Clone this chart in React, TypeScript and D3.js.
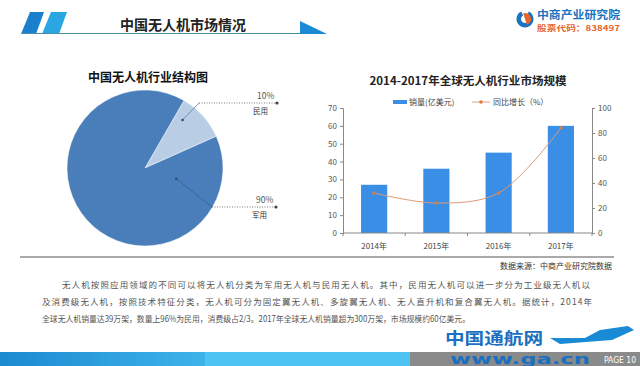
import { useRef, useEffect } from "react";
import * as d3 from "d3";

// Pie: structure of China UAV industry
const pieLabels = ["民用", "军用"];
const pieValues = [10, 90];
const pieColors = ["#b9cde5", "#4a7ebb"];

// Bars + line: global UAV market 2014-2017
const years = ["2014年", "2015年", "2016年", "2017年"];
const sales = [27, 36, 45, 60];
const growth = [32, 24, 32, 84];
const leftTicks = [0, 10, 20, 30, 40, 50, 60, 70];
const rightTicks = [0, 20, 40, 60, 80, 100];

const paragraph = [
  "无人机按照应用领域的不同可以将无人机分类为军用无人机与民用无人机。其中，民用无人机可以进一步分为工业级无人机以",
  "及消费级无人机，按照技术特征分类，无人机可分为固定翼无人机、多旋翼无人机、无人直升机和复合翼无人机。据统计，2014年",
  "全球无人机销量达39万架，数量上96%为民用，消费级占2/3。2017年全球无人机销量超为300万架，市场规模约60亿美元。",
];

const W = 640;
const H = 366;
const FONT = "'Noto Sans CJK SC', 'Noto Sans', sans-serif";

export default function App() {
  const ref = useRef<SVGSVGElement>(null);

  useEffect(() => {
    if (!ref.current) return;
    const svg = d3.select(ref.current);
    svg.selectAll("*").remove();
    svg.style("font-family", FONT);

    // background
    svg.append("rect").attr("width", W).attr("height", H).attr("fill", "#fff");

    // ---- header ----
    svg.append("polygon").attr("points", "30,12 44,12 36,34 21,34").attr("fill", "#1a7fcc");
    svg.append("polygon").attr("points", "51,12 67,12 59,34 42,34").attr("fill", "#2aa6e3");
    svg
      .append("line")
      .attr("x1", 21).attr("x2", 300).attr("y1", 33.5).attr("y2", 33.5)
      .attr("stroke", "#4a8fa8").attr("stroke-width", 1.2);
    svg.append("polygon").attr("points", "300,21 300,34 327,34").attr("fill", "#1a8ad4");
    svg
      .append("text")
      .attr("x", 183).attr("y", 30)
      .attr("text-anchor", "middle")
      .attr("font-size", 14).attr("font-weight", "bold").attr("fill", "#222")
      .text("中国无人机市场情况");

    // logo
    const logo = svg.append("g").attr("transform", "translate(525,19)");
    logo.append("path").attr("d", d3.arc()({ innerRadius: 4, outerRadius: 8.5, startAngle: Math.PI * 0.15, endAngle: Math.PI * 1.85 }) as string).attr("fill", "#1a74c0");
    logo.append("path").attr("d", d3.arc()({ innerRadius: 0, outerRadius: 6, startAngle: -Math.PI * 0.1, endAngle: Math.PI * 0.9 }) as string).attr("fill", "#e8652b");
    svg.append("text").attr("x", 537).attr("y", 19).attr("font-size", 11).attr("font-weight", "bold").attr("fill", "#1a74c0")
      .attr("textLength", 83).attr("lengthAdjust", "spacingAndGlyphs").text("中商产业研究院");
    svg.append("text").attr("x", 537).attr("y", 30.5).attr("font-size", 7.5).attr("font-weight", "bold").attr("fill", "#e8652b")
      .attr("textLength", 83).attr("lengthAdjust", "spacingAndGlyphs").text("股票代码：838497");

    // ---- pie ----
    svg
      .append("text")
      .attr("x", 148).attr("y", 82)
      .attr("text-anchor", "middle")
      .attr("font-size", 12).attr("font-weight", "bold").attr("fill", "#111")
      .text("中国无人机行业结构图");

    const cx = 145, cy = 168, r = 78;
    const pie = d3
      .pie<number>()
      .sort(null)
      .startAngle((30 * Math.PI) / 180)
      .endAngle((30 * Math.PI) / 180 + 2 * Math.PI);
    const arcs = pie(pieValues);
    const arc = d3.arc<d3.PieArcDatum<number>>().innerRadius(0).outerRadius(r);
    const pg = svg.append("g").attr("transform", `translate(${cx},${cy})`);
    pg.selectAll("path")
      .data(arcs)
      .join("path")
      .attr("d", arc)
      .attr("fill", (_, i) => pieColors[i])
      .attr("stroke", "#fff")
      .attr("stroke-width", 0.5);

    // leader lines (anchor angle/radius per slice, label positions)
    const anchors = [
      { ang: 38, rad: 61, bx: 199, by: 103, ex: 277, lx: 253 },
      { ang: 109, rad: 33, bx: 212, by: 207, ex: 276, lx: 252 },
    ];
    anchors.forEach((a, i) => {
      const t = (a.ang * Math.PI) / 180;
      const ax = cx + a.rad * Math.sin(t);
      const ay = cy - a.rad * Math.cos(t);
      svg.append("line").attr("x1", ax).attr("y1", ay).attr("x2", a.bx).attr("y2", a.by)
        .attr("stroke", i === 0 ? "#5a7fa8" : "#2f5f95").attr("stroke-width", 0.8);
      svg.append("line").attr("x1", a.bx).attr("y1", a.by).attr("x2", a.ex).attr("y2", a.by)
        .attr("stroke", "#555").attr("stroke-width", 0.8).attr("stroke-dasharray", "1,1.5");
      svg.append("circle").attr("cx", ax).attr("cy", ay).attr("r", 1.3).attr("fill", "#2a4a70");
      svg.append("circle").attr("cx", a.ex).attr("cy", a.by).attr("r", 1.6).attr("fill", "#444");
      svg.append("text").attr("x", a.lx + 4).attr("y", a.by - 4).attr("font-size", 8.5).attr("fill", "#555")
        .text(`${pieValues[i]}%`);
      svg.append("text").attr("x", a.lx).attr("y", a.by + 11).attr("font-size", 7.5).attr("fill", "#333")
        .text(pieLabels[i]);
    });

    // ---- bar + line chart ----
    svg
      .append("text")
      .attr("x", 468).attr("y", 85)
      .attr("text-anchor", "middle")
      .attr("font-size", 11).attr("font-weight", "bold").attr("fill", "#222")
      .attr("textLength", 197).attr("lengthAdjust", "spacingAndGlyphs")
      .text("2014-2017年全球无人机行业市场规模");

    const x0 = 343, x1 = 592, yTop = 108, yBot = 233;
    const x = d3.scaleBand().domain(years).range([x0, x1]).paddingInner(0.58).paddingOuter(0.29);
    const yL = d3.scaleLinear().domain([0, 70]).range([yBot, yTop]);
    const yR = d3.scaleLinear().domain([0, 100]).range([yBot, yTop]);
    const band = (x1 - x0) / years.length;

    // legend
    svg.append("rect").attr("x", 393).attr("y", 100).attr("width", 14).attr("height", 4).attr("fill", "#3a8ee6");
    svg.append("text").attr("x", 409).attr("y", 105).attr("font-size", 8).attr("fill", "#444").text("销量(亿美元)");
    svg.append("line").attr("x1", 472).attr("x2", 490).attr("y1", 102).attr("y2", 102).attr("stroke", "#e0a080").attr("stroke-width", 1);
    svg.append("circle").attr("cx", 481).attr("cy", 102).attr("r", 1.8).attr("fill", "#e07b39");
    svg.append("text").attr("x", 493).attr("y", 105).attr("font-size", 8).attr("fill", "#444").text("同比增长（%）");

    // bars
    svg.append("g")
      .selectAll("rect")
      .data(sales)
      .join("rect")
      .attr("x", (_, i) => x(years[i]) as number)
      .attr("y", (d) => yL(d))
      .attr("width", x.bandwidth())
      .attr("height", (d) => yBot - yL(d))
      .attr("fill", "#3a8ee6");

    // axes
    const axisColor = "#888";
    const gl = svg.append("g").attr("transform", `translate(${x0},0)`)
      .call(d3.axisLeft(yL).tickValues(leftTicks).tickSize(3).tickPadding(3));
    const gr = svg.append("g").attr("transform", `translate(${x1},0)`)
      .call(d3.axisRight(yR).tickValues(rightTicks).tickSize(3).tickPadding(3));
    [gl, gr].forEach((g) => {
      g.select(".domain").attr("stroke", axisColor);
      g.selectAll("line").attr("stroke", axisColor);
      g.selectAll("text").attr("fill", "#555").attr("font-size", 8).attr("font-family", FONT);
    });

    svg.append("line").attr("x1", x0).attr("x2", x1).attr("y1", yBot).attr("y2", yBot).attr("stroke", axisColor);
    d3.range(years.length + 1).forEach((i) => {
      svg.append("line")
        .attr("x1", x0 + i * band).attr("x2", x0 + i * band)
        .attr("y1", yBot).attr("y2", yBot + 3)
        .attr("stroke", axisColor);
    });
    svg.append("g")
      .selectAll("text")
      .data(years)
      .join("text")
      .attr("x", (d) => (x(d) as number) + x.bandwidth() / 2)
      .attr("y", 249)
      .attr("text-anchor", "middle")
      .attr("font-size", 8)
      .attr("fill", "#444")
      .text((d) => d);

    // growth line
    const line = d3
      .line<number>()
      .x((_, i) => (x(years[i]) as number) + x.bandwidth() / 2)
      .y((d) => yR(d))
      .curve(d3.curveCatmullRom.alpha(0.5));
    svg.append("path").datum(growth).attr("d", line).attr("fill", "none").attr("stroke", "#dd9a78").attr("stroke-width", 1);
    svg.append("g")
      .selectAll("circle")
      .data(growth)
      .join("circle")
      .attr("cx", (_, i) => (x(years[i]) as number) + x.bandwidth() / 2)
      .attr("cy", (d) => yR(d))
      .attr("r", 1.8)
      .attr("fill", "#e07b39");

    // separator + source
    svg.append("line").attr("x1", 20).attr("x2", 614).attr("y1", 257).attr("y2", 257).attr("stroke", "#555").attr("stroke-width", 1);
    svg.append("text").attr("x", 612).attr("y", 269).attr("text-anchor", "end").attr("font-size", 8).attr("fill", "#333")
      .text("数据来源：中商产业研究院数据");

    // paragraph
    const paraX = [62, 42, 42];
    const paraEnd = [590, 592, 470];
    const paraY = [288, 305, 322];
    paragraph.forEach((t, i) => {
      svg.append("text")
        .attr("x", paraX[i]).attr("y", paraY[i])
        .attr("font-size", 8.5).attr("fill", "#555")
        .attr("textLength", paraEnd[i] - paraX[i]).attr("lengthAdjust", i === 2 ? "spacingAndGlyphs" : "spacing")
        .text(t);
    });

    // bottom band
    const defs = svg.append("defs");
    const grad = defs.append("linearGradient").attr("id", "bandGrad").attr("x1", 0).attr("x2", 1);
    grad.append("stop").attr("offset", "0%").attr("stop-color", "#1c8bd0");
    grad.append("stop").attr("offset", "100%").attr("stop-color", "#3db3ea");
    svg.append("rect").attr("x", 0).attr("y", 352).attr("width", 205).attr("height", 14).attr("fill", "url(#bandGrad)");
    svg.append("rect").attr("x", 205).attr("y", 352).attr("width", 205).attr("height", 14).attr("fill", "#4cc3f2");
    svg.append("rect").attr("x", 410).attr("y", 352).attr("width", 230).attr("height", 14).attr("fill", "#8a8a8a");

    // overlay watermark logo
    svg.append("text").attr("x", 445).attr("y", 344).attr("font-size", 16).attr("font-weight", "bold").attr("fill", "#1a6fc0")
      .attr("textLength", 98).attr("lengthAdjust", "spacingAndGlyphs").text("中国通航网");
    svg.append("path").attr("d", "M550,338 L585,338 L600,330 L628,326 L634,330 L612,340 L560,344 Z").attr("fill", "#1a8ad4");
    svg.append("text").attr("x", 450).attr("y", 364).attr("font-size", 14).attr("font-weight", "bold").attr("fill", "#1a6fc0")
      .attr("font-family", "'DejaVu Sans', sans-serif")
      .attr("textLength", 140).attr("lengthAdjust", "spacingAndGlyphs").text("www.ga.cn");
    svg.append("text").attr("x", 604).attr("y", 363).attr("font-size", 8.5).attr("fill", "#fff")
      .attr("font-family", "'DejaVu Sans Condensed', sans-serif").text("PAGE 10");
  }, []);

  return (
    <svg
      ref={ref}
      width={W}
      height={H}
      style={{ position: "absolute", left: 0, top: 0 }}
    />
  );
}
